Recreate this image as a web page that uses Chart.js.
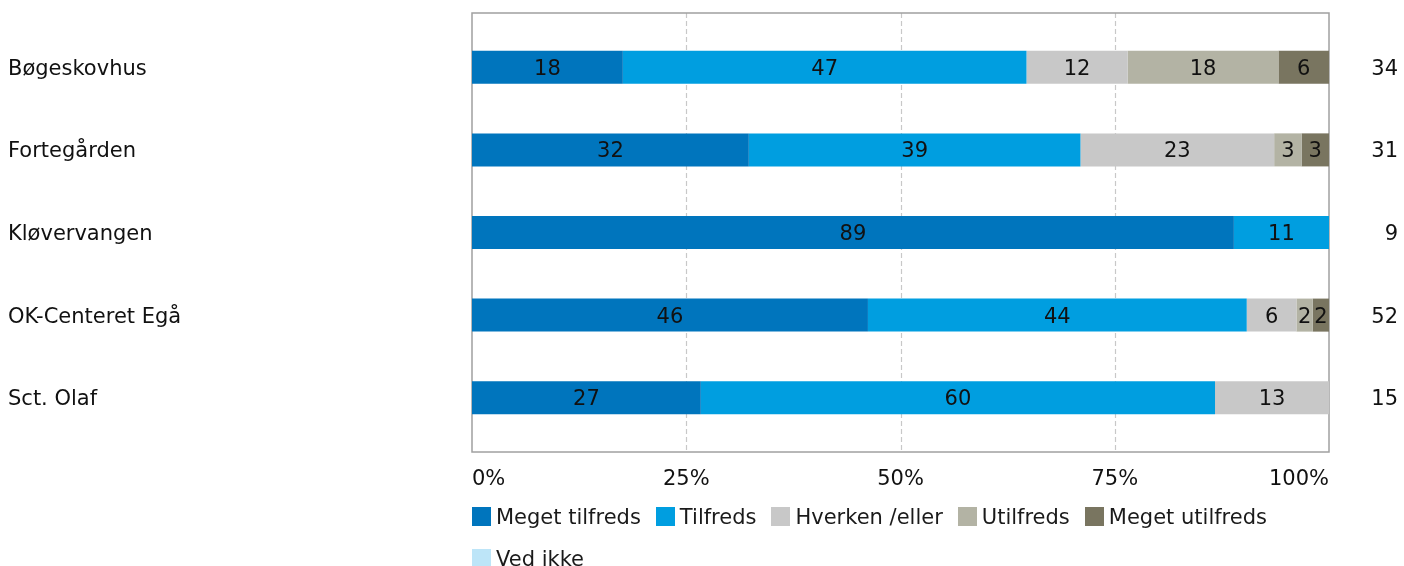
<!DOCTYPE html>
<html>
<head>
<meta charset="utf-8">
<script src="https://cdn.jsdelivr.net/npm/chart.js@4/dist/chart.umd.min.js"></script>
<style>
  html, body { margin: 0; padding: 0; background: #fff; }
  #wrap { position: relative; width: 1404px; height: 566px; overflow: hidden; }
  #legend { position: absolute; left: 472px; top: 507px; width: 930px; display: flex; flex-wrap: wrap;
            font: 21px "DejaVu Sans", Verdana, sans-serif; color: #1a1a1a; }
  .item { display: flex; align-items: center; height: 19px; margin: 0 15px 23px 0; white-space: nowrap; }
  .box { width: 19px; height: 19px; margin-right: 5px; }
</style>
</head>
<body>
<div id="wrap">
  <canvas id="satChart" width="1404" height="566"></canvas>
  <div id="legend"></div>
</div>
<script>
// data (share of answers in %, n per home on the right)
const categories = ['Bøgeskovhus', 'Fortegården', 'Kløvervangen', 'OK-Centeret Egå', 'Sct. Olaf'];
const respondents = ['34', '31', '9', '52', '15'];
const megetTilfreds = [17.6, 32.3, 88.9, 46.2, 26.7];
const tilfreds = [47.1, 38.7, 11.1, 44.2, 60.0];
const hverken = [11.8, 22.6, 0, 5.8, 13.3];
const utilfreds = [17.6, 3.2, 0, 1.9, 0];
const megetUtilfreds = [5.9, 3.2, 0, 1.9, 0];
const vedIkke = [0, 0, 0, 0, 0];
const xTicks = [0, 25, 50, 75, 100];

const font = { family: '"DejaVu Sans", Verdana, sans-serif', size: 21 };
const textColor = '#111111';

// frame + dashed gridlines, a bit taller than the bar bands
const framePlugin = {
    id: 'frame',
    beforeDatasetsDraw(chart) {
        const { ctx, chartArea: a, scales: { x } } = chart;
        const pad = 13;
        ctx.save();
        ctx.strokeStyle = '#c8c8c8';
        ctx.lineWidth = 1.2;
        ctx.setLineDash([5, 3]);
        xTicks.slice(1, -1).forEach(v => {
            const px = Math.round(x.getPixelForValue(v)) + 0.5;
            ctx.beginPath();
            ctx.moveTo(px, a.top - pad);
            ctx.lineTo(px, a.bottom + pad);
            ctx.stroke();
        });
        ctx.setLineDash([]);
        ctx.strokeStyle = '#a0a0a0';
        ctx.lineWidth = 1.5;
        ctx.strokeRect(a.left, a.top - pad, a.right - a.left, a.bottom - a.top + 2 * pad);
        ctx.restore();
    }
};

// rounded value in the middle of each segment
const labelPlugin = {
    id: 'segLabels',
    afterDatasetsDraw(chart) {
        const ctx = chart.ctx;
        ctx.save();
        ctx.font = font.size + 'px ' + font.family;
        ctx.fillStyle = textColor;
        ctx.textAlign = 'center';
        ctx.textBaseline = 'middle';
        chart.data.datasets.forEach((ds, di) => {
            chart.getDatasetMeta(di).data.forEach((bar, i) => {
                const v = ds.data[i];
                if (!v) return;
                const p = bar.getProps(['x', 'y', 'base'], true);
                ctx.fillText(Math.round(v), (p.x + p.base) / 2, p.y + 2);
            });
        });
        ctx.restore();
    }
};

const ctx = document.getElementById('satChart').getContext('2d');
const chart = new Chart(ctx, {
    type: 'bar',
    data: {
        labels: categories,
        datasets: [
            { label: 'Meget tilfreds', data: megetTilfreds, backgroundColor: '#0075bd' },
            { label: 'Tilfreds', data: tilfreds, backgroundColor: '#009ee0' },
            { label: 'Hverken /eller', data: hverken, backgroundColor: '#c8c8c8' },
            { label: 'Utilfreds', data: utilfreds, backgroundColor: '#b3b3a4' },
            { label: 'Meget utilfreds', data: megetUtilfreds, backgroundColor: '#797560' },
            { label: 'Ved ikke', data: vedIkke, backgroundColor: '#bde5f8' }
        ]
    },
    options: {
        indexAxis: 'y',
        responsive: false,
        animation: false,
        categoryPercentage: 1,
        barPercentage: 0.4,
        layout: { padding: { left: 8, right: 6, top: 26, bottom: 67 } },
        plugins: { legend: { display: false }, tooltip: { enabled: false } },
        scales: {
            x: {
                type: 'linear', stacked: true, min: 0, max: 100,
                grid: { display: false, drawTicks: false },
                border: { display: false },
                afterBuildTicks: s => { s.ticks = xTicks.map(v => ({ value: v })); },
                ticks: { callback: v => v + '%', align: 'inner', font: font, color: textColor, padding: 28, maxRotation: 0 },
                afterFit: s => { s.height = 60; }
            },
            y: {
                stacked: true,
                grid: { display: false, drawTicks: false },
                border: { display: false },
                ticks: { crossAlign: 'far', font: font, color: textColor, padding: 0, labelOffset: 2 },
                afterFit: s => { s.width = 464; }
            },
            y2: {
                type: 'category', position: 'right', labels: respondents, offset: true,
                grid: { display: false, drawTicks: false },
                border: { display: false },
                ticks: { crossAlign: 'far', font: font, color: textColor, padding: 0, labelOffset: 2 },
                afterFit: s => { s.width = 69; }
            }
        }
    },
    plugins: [framePlugin, labelPlugin]
});

// legend as html, starting at the plot's left edge
const legendEl = document.getElementById('legend');
chart.data.datasets.forEach(ds => {
    const item = document.createElement('div');
    item.className = 'item';
    item.innerHTML = '<span class="box" style="background:' + ds.backgroundColor + '"></span>' + ds.label;
    legendEl.appendChild(item);
});
</script>
</body>
</html>
